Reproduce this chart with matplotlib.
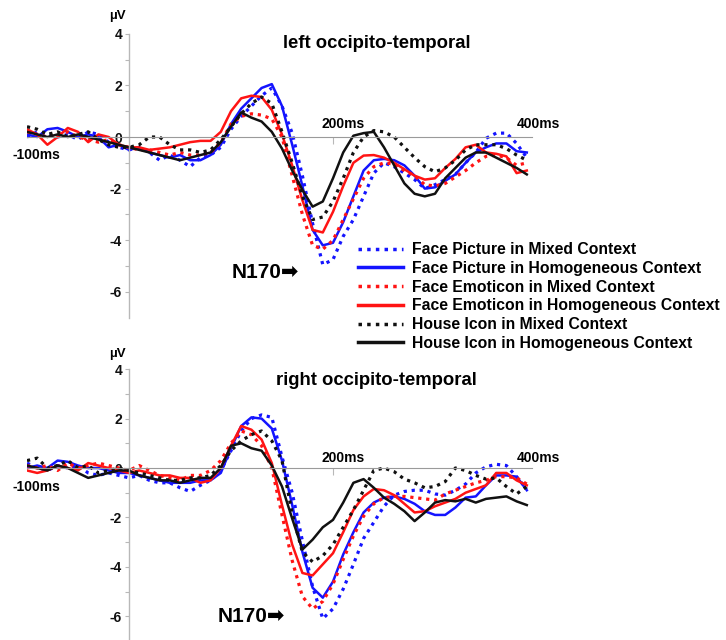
import numpy as np
import matplotlib
matplotlib.use("Agg")
import matplotlib.pyplot as plt

# ---------------- data ----------------
times = list(range(-100, 400, 10))  # ms

series_labels = [
    "Face Picture in Mixed Context",
    "Face Picture in Homogeneous Context",
    "Face Emoticon in Mixed Context",
    "Face Emoticon in Homogeneous Context",
    "House Icon in Mixed Context",
    "House Icon in Homogeneous Context",
]

# left occipito-temporal (µV)
left_face_pic_mixed = [0.0, 0.2, 0.1, 0.0, 0.1, -0.1, 0.2, 0.1, -0.2, -0.4,
                       -0.5, -0.4, -0.6, -0.9, -0.7, -0.9, -1.15, -0.8, -0.7, -0.4,
                       0.3, 0.8, 1.2, 1.6, 1.9, 1.2, 0.15, -1.5, -3.35, -4.95,
                       -4.75, -3.85, -3.2, -2.3, -1.4, -1.0, -1.15, -1.4, -1.65, -2.0,
                       -1.85, -1.65, -1.45, -1.0, -0.6, -0.05, 0.15, 0.15, -0.25, -0.8]
left_face_pic_homo = [0.1, 0.0, 0.3, 0.35, 0.2, 0.0, 0.1, 0.0, -0.4, -0.3,
                      -0.5, -0.4, -0.6, -0.7, -0.8, -0.7, -0.9, -0.9, -0.7, -0.3,
                      0.5, 1.1, 1.5, 1.9, 2.05, 1.2, -0.3, -1.9, -3.6, -4.2,
                      -4.1, -3.3, -2.3, -1.3, -0.9, -0.85, -0.9, -1.1, -1.5, -2.0,
                      -1.95, -1.7, -1.45, -1.0, -0.6, -0.4, -0.25, -0.25, -0.55, -0.6]
left_face_emo_mixed = [0.2, 0.1, 0.0, 0.1, 0.2, 0.0, -0.1, -0.2, -0.1, -0.3,
                       -0.4, -0.5, -0.5, -0.6, -0.7, -0.6, -0.7, -0.7, -0.6, -0.2,
                       0.5, 0.8, 0.9, 0.85, 0.7, 0.0, -1.5, -3.0, -4.2, -4.35,
                       -4.0, -3.2, -2.4, -1.6, -1.15, -1.0, -1.05, -1.3, -1.5, -1.85,
                       -1.9, -1.8, -1.55, -1.3, -1.0, -0.75, -0.7, -0.8, -1.1, -1.0]
left_face_emo_homo = [0.3, 0.1, -0.3, 0.0, 0.35, 0.2, -0.2, 0.1, 0.0, -0.3,
                      -0.4, -0.4, -0.5, -0.45, -0.4, -0.3, -0.2, -0.15, -0.15, 0.2,
                      1.0, 1.5, 1.6, 1.55, 1.05, 0.1, -1.1, -2.45, -3.6, -3.7,
                      -2.9, -1.9, -1.0, -0.72, -0.7, -0.8, -1.0, -1.25, -1.5, -1.65,
                      -1.6, -1.2, -0.85, -0.4, -0.3, -0.6, -0.65, -0.75, -1.4, -1.3]
left_house_mixed = [0.4, 0.3, 0.1, 0.2, 0.0, 0.1, 0.2, -0.1, -0.3, -0.4,
                    -0.4, -0.3, 0.0, 0.0, -0.3, -0.5, -0.5, -0.6, -0.5, -0.1,
                    0.4, 0.9, 1.3, 1.55, 1.3, 0.2, -1.0, -2.3, -3.2, -3.1,
                    -2.5, -1.6, -0.6, 0.0, 0.25, 0.2, 0.0, -0.4, -0.8, -1.15,
                    -1.35, -1.2, -0.9, -0.5, -0.3, -0.3, -0.3, -0.45, -0.7, -0.9]
left_house_homo = [0.2, 0.1, 0.0, 0.1, 0.0, 0.1, 0.0, -0.1, -0.2, -0.3,
                   -0.4, -0.5, -0.6, -0.7, -0.8, -0.9, -0.8, -0.7, -0.6, -0.2,
                   0.4, 0.95, 0.75, 0.6, 0.2, -0.45, -1.3, -2.05, -2.7, -2.5,
                   -1.6, -0.6, 0.05, 0.15, 0.2, -0.4, -1.1, -1.8, -2.2, -2.3,
                   -2.2, -1.6, -1.2, -0.8, -0.6, -0.6, -0.8, -1.0, -1.2, -1.45]

# right occipito-temporal (µV)
right_face_pic_mixed = [0.2, 0.0, -0.1, 0.1, 0.0, 0.1, -0.2, -0.3, -0.2, -0.3,
                        -0.4, -0.3, -0.5, -0.6, -0.6, -0.8, -0.95, -0.7, -0.5, -0.1,
                        0.7, 1.5, 2.0, 2.15, 2.05, 0.45, -1.0, -2.95, -4.8, -6.1,
                        -5.7, -4.9, -3.9, -2.85, -2.2, -1.55, -1.1, -0.95, -0.9, -0.9,
                        -1.05, -1.1, -0.9, -0.65, -0.2, 0.05, 0.15, 0.1, -0.35, -0.85]
right_face_pic_homo = [0.0, 0.1, 0.0, 0.3, 0.25, 0.1, 0.0, 0.0, -0.1, -0.2,
                       -0.2, -0.3, -0.4, -0.5, -0.6, -0.6, -0.6, -0.5, -0.5, -0.2,
                       0.8, 1.7, 2.05, 2.0, 1.6, 0.3, -1.5, -3.4, -4.85, -5.25,
                       -4.6, -3.5, -2.6, -1.8, -1.4, -1.2, -1.15, -1.25, -1.45, -1.75,
                       -1.9, -1.9, -1.6, -1.2, -1.15, -0.7, -0.3, -0.3, -0.35, -0.9]
right_face_emo_mixed = [0.1, 0.0, 0.1, -0.1, 0.2, 0.0, 0.1, 0.2, 0.1, 0.0,
                        -0.1, 0.1, -0.1, -0.3, -0.4, -0.5, -0.3, -0.3, -0.1, 0.3,
                        1.0, 1.5, 1.35, 0.9, 0.0, -1.9, -3.75, -5.2, -5.7, -5.4,
                        -4.7, -3.7, -2.75, -1.95, -1.45, -1.2, -1.15, -1.15, -1.2, -1.25,
                        -1.3, -1.05, -0.9, -0.75, -0.6, -0.5, -0.35, -0.35, -0.4, -0.65]
right_face_emo_homo = [-0.1, -0.2, -0.1, 0.1, 0.0, -0.1, 0.2, 0.1, 0.0, -0.1,
                       -0.2, -0.1, -0.2, -0.3, -0.3, -0.4, -0.4, -0.6, -0.5, 0.0,
                       0.9, 1.7, 1.55, 1.15, 0.2, -1.5, -3.1, -4.25, -4.35, -3.9,
                       -3.45, -2.6, -1.7, -1.15, -0.85, -0.9, -1.1, -1.45, -1.8, -1.75,
                       -1.55, -1.4, -1.25, -1.0, -0.85, -0.7, -0.2, -0.2, -0.5, -0.7]
right_house_mixed = [0.3, 0.4, 0.0, 0.1, 0.3, 0.0, 0.1, -0.2, -0.1, 0.0,
                     -0.1, -0.2, -0.3, -0.4, -0.5, -0.5, -0.4, -0.4, -0.3, 0.1,
                     0.7, 1.1, 1.35, 1.5, 1.1, 0.3, -1.85, -3.4, -3.8, -3.55,
                     -3.1, -2.4, -1.7, -0.9, -0.1, 0.0, -0.15, -0.45, -0.6, -0.8,
                     -0.75, -0.55, 0.0, -0.1, -0.3, -0.45, -0.4, -0.75, -1.05, -0.75]
right_house_homo = [0.1, 0.0, -0.1, 0.1, 0.0, -0.2, -0.4, -0.3, -0.2, -0.1,
                    -0.1, -0.3, -0.4, -0.5, -0.5, -0.6, -0.5, -0.4, -0.4, 0.0,
                    0.9, 1.0, 0.8, 0.7, 0.1, -0.75, -2.05, -3.3, -2.9, -2.4,
                    -2.1, -1.4, -0.6, -0.45, -0.8, -1.2, -1.45, -1.75, -2.15, -1.8,
                    -1.4, -1.3, -1.35, -1.25, -1.4, -1.25, -1.2, -1.15, -1.35, -1.5]

panel_titles = ["left occipito-temporal", "right occipito-temporal"]
y_ticks = [-6, -4, -2, 0, 2, 4]

# ---------------- style ----------------
BLUE, RED, BLACK = "#1414ff", "#ff1414", "#111111"
styles = [(BLUE, "dot"), (BLUE, "solid"), (RED, "dot"), (RED, "solid"),
          (BLACK, "dot"), (BLACK, "solid")]
AX_GRAY = "#b8b8b8"
FONT = dict(family=["Liberation Sans", "DejaVu Sans"], weight="bold")

fig = plt.figure(figsize=(7.26, 6.40), dpi=100)
W, H = 726.0, 640.0

def make_axes(y_zero_px, px_per_uv, ylo, yhi):
    top_px = y_zero_px - yhi * px_per_uv
    h_px = (yhi - ylo) * px_per_uv
    return fig.add_axes([27 / W, 1 - (top_px + h_px) / H, 510 / W, h_px / H])

ax_top = make_axes(137, 25.8, -7.0, 4.2)
ax_bot = make_axes(468, 24.7, -6.95, 4.2)

panels = [
    (ax_top, [left_face_pic_mixed, left_face_pic_homo, left_face_emo_mixed,
              left_face_emo_homo, left_house_mixed, left_house_homo], -7.0, 4.2),
    (ax_bot, [right_face_pic_mixed, right_face_pic_homo, right_face_emo_mixed,
              right_face_emo_homo, right_house_mixed, right_house_homo], -6.95, 4.2),
]

handles = None
for i, (ax, data, ylo, yhi) in enumerate(panels):
    ax.set_xlim(-100, 400)
    ax.set_ylim(ylo, yhi)
    ax.patch.set_alpha(0)
    for s in ["top", "right"]:
        ax.spines[s].set_visible(False)
    ax.spines["left"].set_position(("data", 0))
    ax.spines["left"].set_bounds(ylo, 4)
    ax.spines["left"].set_color(AX_GRAY)
    ax.spines["left"].set_linewidth(1.0)
    ax.spines["bottom"].set_position(("data", 0))
    ax.spines["bottom"].set_bounds(-100, 395)
    ax.spines["bottom"].set_color("#9a9a9a")
    ax.spines["bottom"].set_linewidth(0.8)
    ax.spines["bottom"].set_linestyle((0, (1, 1)))
    ax.set_yticks(y_ticks)
    ax.set_yticks([-5, -3, -1, 1, 3], minor=True)
    ax.set_yticklabels([str(v) for v in y_ticks], fontsize=10, **FONT)
    ax.tick_params(axis="y", which="both", colors=AX_GRAY, length=3, width=0.8,
                   labelcolor="#111111", pad=2)
    ax.set_xticks([200])
    ax.set_xticklabels([""])
    ax.tick_params(axis="x", colors=AX_GRAY, length=5, width=0.8)

    lines = []
    for (col, ls), vals, lab in zip(styles, data, series_labels):
        if ls == "dot":
            ln, = ax.plot(times, vals, color=col, lw=2.3, linestyle=(0, (1, 1.5)),
                          label=lab)
        else:
            ln, = ax.plot(times, vals, color=col, lw=1.8, label=lab)
        lines.append(ln)
    if handles is None:
        handles = lines

    yoff = 0.5 if i == 0 else 0.42
    ax.text(-114, -0.7 if i == 0 else -0.77, "-100ms", ha="left", va="center",
            fontsize=10, **FONT)
    ax.text(189, yoff, "200ms", ha="left", va="center", fontsize=10, **FONT)
    ax.text(380, yoff, "400ms", ha="left", va="center", fontsize=10, **FONT)
    ax.text(-11.5, 4.68 if i == 0 else 4.6, "µV", ha="center", va="center",
            fontsize=9.5, **FONT)
    ax.text(243, 3.64 if i == 0 else 3.56, panel_titles[i], ha="center",
            va="center", fontsize=13.3, **FONT)
    if i == 0:
        ax.text(101, -5.27, "N170\u27a1", ha="left", va="center", fontsize=15,
                **FONT)
    else:
        ax.text(87, -6.03, "N170\u27a1", ha="left", va="center", fontsize=15,
                **FONT)

leg = fig.legend(handles=handles, labels=series_labels, loc="upper left",
                 bbox_to_anchor=(358 / W, 1 - 242 / H), frameon=False,
                 borderpad=0, borderaxespad=0, handlelength=2.85,
                 handletextpad=0.62, labelspacing=0.24,
                 prop=dict(family=["Liberation Sans", "DejaVu Sans"],
                           weight="bold", size=11.3))
for lh in leg.get_lines():
    lh.set_linewidth(2.5)

fig.savefig("out.png", dpi=100)
